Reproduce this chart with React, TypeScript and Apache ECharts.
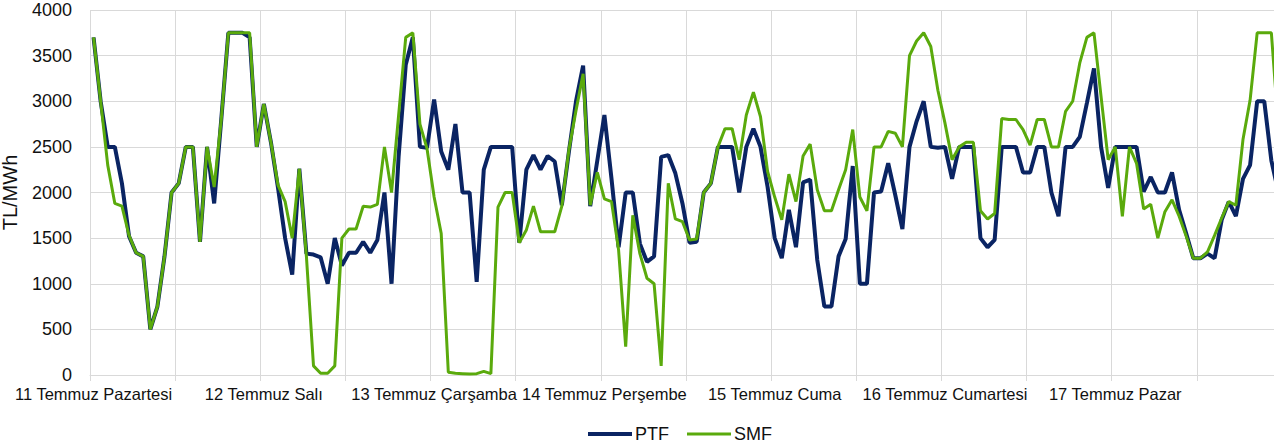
import React, { useEffect, useRef } from "react";
import * as echarts from "echarts";

const days = [
  "11 Temmuz Pazartesi",
  "12 Temmuz Salı",
  "13 Temmuz Çarşamba",
  "14 Temmuz Perşembe",
  "15 Temmuz Cuma",
  "16 Temmuz Cumartesi",
  "17 Temmuz Pazar",
];

const ptf = [
  3700, 3000, 2500, 2500, 2100, 1520, 1340, 1300, 500, 750, 1300, 2000, 2100, 2500, 2500, 1460, 2500, 1880, 2800, 3750, 3750, 3750, 3700, 2500,
  2970, 2550, 2050, 1500, 1100, 2260, 1330, 1320, 1290, 1000, 1500, 1200, 1340, 1340, 1460, 1340, 1480, 2000, 1000, 2400, 3400, 3700, 2500, 2490,
  3020, 2450, 2250, 2750, 2000, 2000, 1020, 2250, 2500, 2500, 2500, 2500, 1450, 2250, 2410, 2250, 2400, 2340, 1860, 2450, 3000, 3390, 1850, 2350,
  2850, 2150, 1400, 2000, 2000, 1440, 1240, 1300, 2390, 2410, 2210, 1880, 1450, 1460, 2000, 2100, 2500, 2500, 2500, 2000, 2500, 2700, 2500, 2060,
  1500, 1280, 1810, 1400, 2110, 2140, 1260, 750, 750, 1300, 1490, 2290, 1000, 1000, 2000, 2010, 2320, 1970, 1600, 2500, 2780, 3000, 2500, 2490,
  2500, 2150, 2500, 2500, 2500, 1500, 1400, 1480, 2500, 2500, 2500, 2220, 2220, 2500, 2500, 2000, 1740, 2500, 2500, 2610, 2980, 3360, 2500, 2050,
  2500, 2500, 2500, 2500, 2010, 2170, 2000, 2000, 2220, 1810, 1550, 1280, 1280, 1330, 1280, 1700, 1900, 1740, 2150, 2300, 3000, 3000, 2350, 2000,
];

const smf = [
  3700, 3000, 2300, 1880, 1850, 1530, 1340, 1300, 500, 750, 1300, 2000, 2100, 2500, 2500, 1460, 2500, 2060, 2800, 3750, 3750, 3750, 3750, 2500,
  2970, 2550, 2080, 1900, 1500, 2260, 1300, 100, 20, 20, 100, 1500, 1600, 1600, 1850, 1840, 1870, 2500, 2000, 2850, 3700, 3750, 2750, 2480,
  1950, 1550, 30, 20, 15, 10, 15, 40, 15, 1840, 2000, 2000, 1450, 1590, 1850, 1570, 1570, 1570, 1850, 2470, 2900, 3300, 1860, 2220,
  1930, 1900, 1370, 310, 1750, 1330, 1060, 1000, 100, 2100, 1710, 1680, 1480, 1490, 2000, 2100, 2500, 2700, 2700, 2360, 2850, 3100, 2830, 2230,
  1950, 1700, 2200, 1900, 2400, 2530, 2030, 1800, 1800, 2030, 2250, 2690, 1950, 1800, 2500, 2500, 2670, 2650, 2500, 3500, 3660, 3750, 3600, 3120,
  2760, 2360, 2500, 2550, 2550, 1800, 1710, 1770, 2810, 2800, 2800, 2690, 2520, 2800, 2800, 2500, 2500, 2890, 3000, 3420, 3700, 3750, 3050, 2360,
  2500, 1740, 2500, 2320, 1820, 1870, 1500, 1790, 1920, 1740, 1520, 1280, 1280, 1350, 1530, 1720, 1900, 1860, 2580, 3010, 3750, 3750, 3750, 2700,
];

const yTicks = { min: 0, max: 4000, interval: 500 };

const categories: string[] = [];
days.forEach((d) => {
  for (let h = 0; h < 24; h++) categories.push(d + "#" + h);
});

const FONT = "'Liberation Sans', Arial, sans-serif";
const PTF_COLOR = "#0a2463";
const SMF_COLOR = "#5aaa0c";

export default function App() {
  const ref = useRef<HTMLDivElement>(null);
  useEffect(() => {
    if (!ref.current) return;
    const chart = echarts.init(ref.current, null, { renderer: "svg" });
    chart.setOption({
      animation: false,
      backgroundColor: "#ffffff",
      textStyle: { fontFamily: FONT },
      grid: { left: 90, right: -8, top: 10, bottom: 71, outerBoundsMode: "none", containLabel: false },
      legend: {
        left: 583,
        top: 420,
        itemWidth: 44,
        itemHeight: 14,
        itemGap: 18,
        symbolKeepAspect: true,
        textStyle: { fontSize: 18, color: "#111", fontFamily: FONT, padding: [0, 0, 0, -2], lineHeight: 18 },
        data: [
          { name: "PTF", icon: "path://M0 0H44V4H0Z", itemStyle: { color: PTF_COLOR } },
          { name: "SMF", icon: "path://M0 0H44V3H0Z", itemStyle: { color: SMF_COLOR } },
        ],
      },
      xAxis: {
        type: "category",
        data: categories,
        boundaryGap: true,
        axisLine: { show: true, lineStyle: { color: "#d9d9d9", width: 1 } },
        axisTick: { show: true, interval: 11, length: 6, lineStyle: { color: "#d9d9d9" } },
        splitLine: { show: true, interval: 11, lineStyle: { color: "#d9d9d9", width: 1 } },
        axisLabel: {
          interval: 23,
          margin: 10,
          fontSize: 16.5,
          color: "#111",
          fontFamily: FONT,
          formatter: (v: string) => v.split("#")[0],
        },
      },
      yAxis: {
        type: "value",
        min: yTicks.min,
        max: yTicks.max,
        interval: yTicks.interval,
        name: "TL/MWh",
        nameLocation: "middle",
        nameGap: 70,
        nameTextStyle: { fontSize: 20, color: "#111", fontFamily: FONT },
        axisLine: { show: false },
        axisTick: { show: false },
        splitLine: { show: true, lineStyle: { color: "#d9d9d9", width: 1 } },
        axisLabel: {
          fontSize: 18,
          color: "#111",
          margin: 18,
          fontFamily: FONT,
          formatter: (v: number) => String(v),
        },
      },
      series: [
        {
          name: "PTF",
          type: "line",
          data: ptf,
          symbol: "none",
          lineStyle: { color: PTF_COLOR, width: 4 },
          itemStyle: { color: PTF_COLOR },
          z: 2,
        },
        {
          name: "SMF",
          type: "line",
          data: smf,
          symbol: "none",
          lineStyle: { color: SMF_COLOR, width: 3 },
          itemStyle: { color: SMF_COLOR },
          z: 3,
        },
      ],
    });
    return () => chart.dispose();
  }, []);
  return (
    <div
      ref={ref}
      style={{ position: "absolute", left: 0, top: 0, width: 1274, height: 446 }}
    />
  );
}
